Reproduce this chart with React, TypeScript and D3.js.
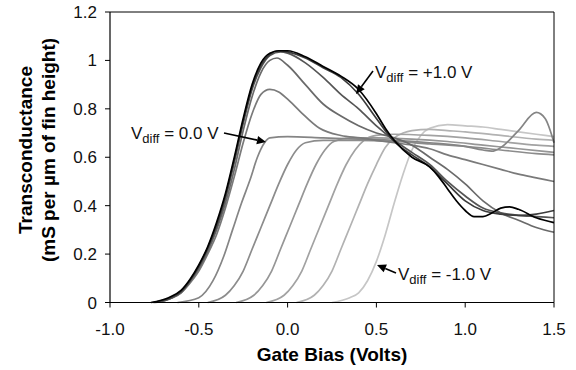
import React from "react";
import * as d3 from "d3";

type Pt = [number, number];

const xTicks = [-1.0, -0.5, 0.0, 0.5, 1.0, 1.5];
const xTickLabels = ["-1.0", "-0.5", "0.0", "0.5", "1.0", "1.5"];
const yTicks = [0, 0.2, 0.4, 0.6, 0.8, 1.0, 1.2];
const yTickLabels = ["0", "0.2", "0.4", "0.6", "0.8", "1", "1.2"];

const vdiffNames = ["-1.0", "-0.8", "-0.6", "-0.4", "-0.2", "0.0", "+0.2", "+0.4", "+0.6", "+0.8", "+1.0"];
const vdiffColors = ["#c6c6c6", "#b2b2b2", "#a2a2a2", "#969696", "#8c8c8c", "#858585", "#7a7a7a", "#6a6a6a", "#555555", "#3c3c3c", "#000000"];

const gmN10: Pt[] = [[0.25, 0], [0.35, 0.02], [0.4, 0.04], [0.45, 0.09], [0.5, 0.17], [0.55, 0.28], [0.6, 0.41], [0.65, 0.53], [0.7, 0.63], [0.75, 0.69], [0.8, 0.72], [0.9, 0.735], [1.0, 0.73], [1.1, 0.725], [1.2, 0.715], [1.3, 0.705], [1.4, 0.695], [1.5, 0.685]];
const gmN08: Pt[] = [[0.05, 0], [0.15, 0.03], [0.2, 0.07], [0.25, 0.13], [0.3, 0.22], [0.35, 0.31], [0.4, 0.4], [0.45, 0.49], [0.5, 0.57], [0.55, 0.64], [0.6, 0.68], [0.65, 0.7], [0.7, 0.71], [0.8, 0.715], [0.9, 0.71], [1.0, 0.705], [1.2, 0.69], [1.4, 0.675], [1.5, 0.67]];
const gmN06: Pt[] = [[-0.12, 0], [-0.02, 0.03], [0.03, 0.07], [0.08, 0.13], [0.13, 0.22], [0.18, 0.31], [0.23, 0.4], [0.28, 0.49], [0.33, 0.57], [0.38, 0.63], [0.43, 0.67], [0.5, 0.69], [0.6, 0.695], [0.8, 0.69], [1.0, 0.68], [1.2, 0.665], [1.4, 0.65], [1.5, 0.645]];
const gmN04: Pt[] = [[-0.29, 0], [-0.19, 0.03], [-0.14, 0.07], [-0.09, 0.13], [-0.04, 0.22], [0.01, 0.31], [0.06, 0.4], [0.11, 0.49], [0.16, 0.57], [0.21, 0.63], [0.26, 0.665], [0.35, 0.68], [0.5, 0.68], [0.7, 0.675], [0.9, 0.665], [1.1, 0.65], [1.3, 0.635], [1.5, 0.62]];
const gmN02: Pt[] = [[-0.45, 0], [-0.35, 0.03], [-0.3, 0.07], [-0.25, 0.13], [-0.2, 0.22], [-0.15, 0.31], [-0.1, 0.4], [-0.05, 0.49], [0.0, 0.57], [0.05, 0.63], [0.1, 0.66], [0.2, 0.67], [0.4, 0.67], [0.6, 0.665], [0.8, 0.655], [1.0, 0.645], [1.2, 0.63], [1.4, 0.615], [1.5, 0.61]];
const gmP00: Pt[] = [[-0.62, 0], [-0.5, 0.02], [-0.42, 0.09], [-0.36, 0.19], [-0.31, 0.3], [-0.26, 0.41], [-0.21, 0.51], [-0.17, 0.6], [-0.13, 0.66], [-0.1, 0.68], [0.0, 0.685], [0.2, 0.68], [0.4, 0.675], [0.6, 0.67], [0.8, 0.66], [1.0, 0.645], [1.1, 0.63], [1.15, 0.625], [1.2, 0.64], [1.3, 0.71], [1.4, 0.785], [1.45, 0.76], [1.5, 0.66]];
const gmP02: Pt[] = [[-0.74, 0], [-0.65, 0.02], [-0.6, 0.04], [-0.55, 0.08], [-0.5, 0.13], [-0.45, 0.2], [-0.4, 0.28], [-0.35, 0.39], [-0.3, 0.52], [-0.25, 0.66], [-0.2, 0.78], [-0.15, 0.86], [-0.1, 0.88], [-0.05, 0.87], [0.0, 0.84], [0.07, 0.79], [0.18, 0.72], [0.3, 0.69], [0.41, 0.68], [0.5, 0.67], [0.6, 0.66], [0.7, 0.65], [0.8, 0.635], [0.9, 0.61], [1.0, 0.59], [1.1, 0.57], [1.2, 0.55], [1.3, 0.53], [1.4, 0.515], [1.5, 0.5]];
const gmP04: Pt[] = [[-0.75, 0], [-0.65, 0.02], [-0.6, 0.04], [-0.55, 0.085], [-0.5, 0.14], [-0.45, 0.21], [-0.4, 0.3], [-0.35, 0.41], [-0.3, 0.55], [-0.25, 0.71], [-0.2, 0.85], [-0.15, 0.95], [-0.1, 1.0], [-0.06, 1.01], [0.0, 0.98], [0.1, 0.9], [0.2, 0.82], [0.3, 0.77], [0.4, 0.73], [0.5, 0.7], [0.6, 0.68], [0.7, 0.65], [0.8, 0.6], [0.9, 0.55], [1.0, 0.49], [1.1, 0.42], [1.2, 0.37], [1.3, 0.34], [1.4, 0.31], [1.5, 0.29]];
const gmP06: Pt[] = [[-0.75, 0], [-0.65, 0.02], [-0.6, 0.045], [-0.55, 0.09], [-0.5, 0.145], [-0.45, 0.22], [-0.4, 0.31], [-0.35, 0.43], [-0.3, 0.58], [-0.25, 0.74], [-0.2, 0.88], [-0.15, 0.97], [-0.1, 1.02], [-0.04, 1.035], [0.0, 1.03], [0.1, 0.99], [0.2, 0.93], [0.3, 0.86], [0.4, 0.8], [0.5, 0.73], [0.6, 0.67], [0.7, 0.62], [0.8, 0.57], [0.9, 0.5], [1.0, 0.44], [1.1, 0.39], [1.2, 0.37], [1.3, 0.36], [1.4, 0.355], [1.5, 0.35]];
const gmP08: Pt[] = [[-0.76, 0], [-0.66, 0.02], [-0.6, 0.045], [-0.55, 0.09], [-0.5, 0.15], [-0.45, 0.225], [-0.4, 0.32], [-0.35, 0.44], [-0.3, 0.59], [-0.25, 0.75], [-0.2, 0.89], [-0.15, 0.98], [-0.1, 1.025], [-0.05, 1.04], [0.0, 1.035], [0.1, 1.01], [0.2, 0.97], [0.3, 0.93], [0.4, 0.86], [0.5, 0.76], [0.6, 0.665], [0.7, 0.61], [0.8, 0.56], [0.9, 0.49], [1.0, 0.42], [1.1, 0.38], [1.2, 0.365], [1.3, 0.36], [1.4, 0.365], [1.5, 0.38]];
const gmP10: Pt[] = [[-0.77, 0], [-0.67, 0.02], [-0.6, 0.05], [-0.55, 0.095], [-0.5, 0.155], [-0.45, 0.23], [-0.4, 0.33], [-0.35, 0.45], [-0.3, 0.6], [-0.25, 0.76], [-0.2, 0.9], [-0.15, 0.99], [-0.1, 1.03], [-0.05, 1.04], [0.0, 1.04], [0.1, 1.015], [0.2, 0.975], [0.3, 0.935], [0.4, 0.88], [0.5, 0.78], [0.55, 0.72], [0.6, 0.67], [0.7, 0.6], [0.8, 0.56], [0.85, 0.52], [0.9, 0.47], [0.95, 0.42], [1.0, 0.38], [1.05, 0.355], [1.1, 0.355], [1.15, 0.37], [1.2, 0.39], [1.25, 0.395], [1.3, 0.385], [1.4, 0.35], [1.5, 0.33]];

const series: Pt[][] = [gmN10, gmN08, gmN06, gmN04, gmN02, gmP00, gmP02, gmP04, gmP06, gmP08, gmP10];

const W = 576;
const H = 370;
const left = 110;
const right = 554;
const top = 12;
const bottom = 302.5;

const FONT = "'Liberation Sans', Arial, Helvetica, sans-serif";

function Arrow({ x1, y1, x2, y2 }: { x1: number; y1: number; x2: number; y2: number }) {
  const ang = Math.atan2(y2 - y1, x2 - x1);
  const L = 9;
  const Wd = 4.2;
  const bx = x2 - L * Math.cos(ang);
  const by = y2 - L * Math.sin(ang);
  const px = -Math.sin(ang) * Wd;
  const py = Math.cos(ang) * Wd;
  return (
    <g>
      <line x1={x1} y1={y1} x2={bx} y2={by} stroke="#000" strokeWidth={1.6} />
      <polygon points={`${x2},${y2} ${bx + px},${by + py} ${bx - px},${by - py}`} fill="#000" />
    </g>
  );
}

function VLabel({ x, y, value }: { x: number; y: number; value: string }) {
  return (
    <text x={x} y={y} fontFamily={FONT} fontSize={17} fill="#111">
      V
      <tspan fontSize={13} dy={4}>diff</tspan>
      <tspan dy={-4}>{` = ${value} V`}</tspan>
    </text>
  );
}

export default function App() {
  const x = d3.scaleLinear().domain([-1, 1.5]).range([left, right]);
  const y = d3.scaleLinear().domain([0, 1.2]).range([bottom, top]);
  const line = d3
    .line<Pt>()
    .x((d) => x(d[0]))
    .y((d) => y(d[1]))
    .curve(d3.curveMonotoneX);

  return (
    <svg width={W} height={H} style={{ position: "absolute", left: 0, top: 0, background: "#fff" }}>
      <rect x={0} y={0} width={W} height={H} fill="#fff" />
      <g>
        {series.map((s, i) => (
          <path key={vdiffNames[i]} d={line(s) || ""} fill="none" stroke={vdiffColors[i]} strokeWidth={1.7} />
        ))}
      </g>
      {/* frame */}
      <line x1={left} y1={top} x2={right} y2={top} stroke="#000" strokeWidth={1} />
      <line x1={right} y1={top} x2={right} y2={bottom} stroke="#000" strokeWidth={1} />
      <line x1={left} y1={top} x2={left} y2={bottom} stroke="#000" strokeWidth={1.2} />
      <line x1={left} y1={bottom} x2={right} y2={bottom} stroke="#000" strokeWidth={1.2} />
      {yTicks.map((t, i) => (
        <g key={"y" + i}>
          <line x1={left - 5} x2={left} y1={y(t)} y2={y(t)} stroke="#000" strokeWidth={1} />
          <text x={97} y={y(t) + 6} textAnchor="end" fontFamily={FONT} fontSize={17} fill="#111">
            {yTickLabels[i]}
          </text>
        </g>
      ))}
      {xTicks.map((t, i) => (
        <g key={"x" + i}>
          <line x1={x(t)} x2={x(t)} y1={bottom} y2={bottom + 5} stroke="#000" strokeWidth={1} />
          <text x={x(t)} y={335} textAnchor="middle" fontFamily={FONT} fontSize={17} fill="#111">
            {xTickLabels[i]}
          </text>
        </g>
      ))}
      <text x={332} y={361} textAnchor="middle" fontFamily={FONT} fontSize={19} fontWeight="bold" fill="#000">
        Gate Bias (Volts)
      </text>
      <text transform="translate(32,150) rotate(-90)" textAnchor="middle" fontFamily={FONT} fontSize={19} fontWeight="bold" fill="#000">
        Transconductance
      </text>
      <text transform="translate(55,150) rotate(-90)" textAnchor="middle" fontFamily={FONT} fontSize={19} fontWeight="bold" fill="#000">
        (mS per µm of fin height)
      </text>
      <VLabel x={375} y={78} value="+1.0" />
      <Arrow x1={373} y1={71} x2={356} y2={94} />
      <VLabel x={131} y={139} value="0.0" />
      <Arrow x1={224} y1={133} x2={266} y2={142} />
      <VLabel x={398} y={280} value="-1.0" />
      <Arrow x1={396} y1={273} x2={377} y2={265} />
    </svg>
  );
}
